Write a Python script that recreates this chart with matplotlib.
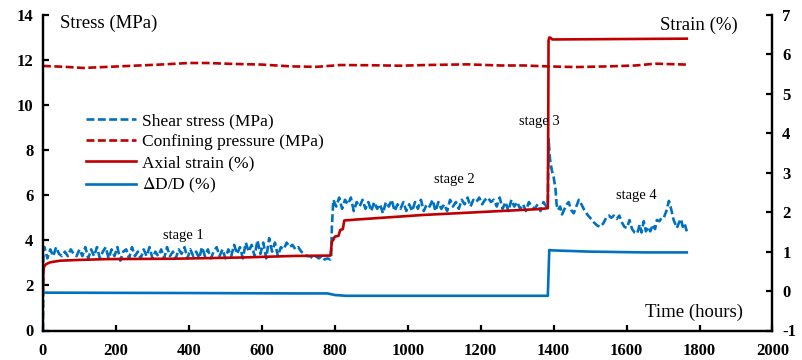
import numpy as np
import matplotlib
matplotlib.use("Agg")
import matplotlib.pyplot as plt

plt.rcParams['font.family'] = ['Liberation Serif', 'DejaVu Serif']
plt.rcParams['mathtext.fontset'] = 'stix'
plt.rcParams['axes.unicode_minus'] = False

BLUE = '#0070C0'
RED = '#C00000'

# ---------------- data ----------------
# Shear stress (MPa), left axis
shear_t_start = [0, 1]
shear_v_start = [0.0, 3.6]

shear_t_s1 = np.arange(4, 789, 8)
shear_v_s1 = [3.7, 3.2, 3.6, 3.3, 3.7,
              3.4, 3.3, 3.5, 3.3, 3.6, 3.4, 3.3, 3.6, 3.3,
              3.7, 3.2, 3.6, 3.3, 3.7, 3.2, 3.5, 3.7, 3.2, 3.6, 3.3, 3.7, 3.1, 3.5, 3.6, 3.2, 3.7, 3.3, 3.5, 3.2, 3.6, 3.3, 3.7,
              3.2, 3.5, 3.3, 3.6, 3.2, 3.7, 3.3, 3.5, 3.2, 3.6, 3.4, 3.7, 3.2, 3.6, 3.3, 3.5, 3.2, 3.7, 3.3, 3.6, 3.2, 3.5, 3.7, 3.3, 3.6, 3.2,
              3.6, 3.3, 3.8, 3.4, 3.7, 3.2, 3.9, 3.5, 3.8, 3.3, 4.0, 3.4, 3.9, 3.2, 4.1, 3.5,
              3.9, 3.3, 3.7, 3.6, 3.9, 3.7, 3.8, 3.6, 3.7, 3.5, 3.4, 3.3, 3.3, 3.2, 3.3, 3.2, 3.3, 3.15, 3.2, 3.15]

shear_t_s2 = np.arange(796, 1381, 8)
shear_v_s2 = [5.8, 5.5, 5.9, 5.4, 5.8, 5.6, 5.9, 5.3, 5.7, 5.5, 5.8, 5.4, 5.7,
              5.3, 5.7, 5.4, 5.6, 5.2, 5.7, 5.5, 5.8, 5.3, 5.6, 5.4, 5.7, 5.3,
              5.6, 5.3, 5.7, 5.4, 5.8, 5.3, 5.6, 5.5, 5.8, 5.3, 5.7, 5.4, 5.6,
              5.3, 5.8, 5.5, 5.7, 5.4, 5.8, 5.6, 5.9, 5.5, 5.8, 5.7, 5.9, 5.6,
              5.8, 5.9, 5.7, 5.8, 5.5, 5.9, 5.4, 5.7, 5.3, 5.8, 5.5, 5.7, 5.4,
              5.6, 5.3, 5.7, 5.5, 5.4, 5.6, 5.3, 5.7, 5.5]

shear_t_s34 = [1384, 1386, 1390, 1395, 1400, 1405, 1408, 1412, 1418, 1423, 1430, 1436, 1441, 1448,
               1455, 1462, 1469, 1476, 1484, 1492, 1500, 1510, 1520, 1528, 1536, 1544, 1551, 1558,
               1565, 1573, 1580, 1587, 1594, 1601, 1608, 1615, 1622, 1629, 1636, 1641, 1647, 1653,
               1659, 1665, 1672, 1678, 1683, 1690, 1696, 1702, 1709, 1716, 1722, 1729, 1734, 1738,
               1744, 1749, 1754, 1759, 1765]
shear_v_s34 = [5.6, 8.5, 7.6, 7.1, 6.8, 6.3, 5.6, 5.35, 5.5, 5.15, 5.4, 5.6, 5.7, 5.35,
               5.2, 5.5, 5.8, 5.6, 5.35, 5.15, 5.0, 4.8, 4.65, 4.6, 4.75, 5.0, 5.1, 5.0,
               5.1, 4.95, 5.1, 4.8, 4.6, 4.55, 4.9, 4.5, 4.35, 4.3, 4.7, 4.35, 4.85, 4.4,
               4.6, 4.4, 4.7, 4.5, 4.9, 4.85, 5.0, 5.0, 5.3, 5.75, 5.4, 4.9, 4.7, 4.55,
               4.8, 4.95, 4.6, 4.75, 4.4]

# Confining pressure (MPa), left axis
conf_t = [0, 60, 110, 180, 250, 320, 400, 450, 520, 600, 680, 750, 815, 900, 980,
          1050, 1162, 1254, 1320, 1382, 1459, 1550, 1624, 1679, 1720, 1765]
conf_v = [11.74, 11.7, 11.65, 11.7, 11.75, 11.8, 11.87, 11.87, 11.83, 11.8, 11.72, 11.7, 11.78, 11.77, 11.75,
          11.78, 11.81, 11.76, 11.76, 11.72, 11.69, 11.72, 11.76, 11.84, 11.82, 11.8]

# Axial strain (%), right axis
axial_t = [0, 1, 3, 8, 20, 47, 100, 175, 358, 540, 686, 788, 792, 796, 800, 810, 815, 822, 826,
           869, 1043, 1363, 1384, 1385, 1386, 1388, 1392, 1396, 1765]
axial_v = [0.05, 0.5, 0.62, 0.68, 0.73, 0.77, 0.79, 0.81, 0.82, 0.85, 0.89, 0.9, 1.25, 1.3, 1.38, 1.4, 1.55, 1.57, 1.79,
           1.82, 1.93, 2.08, 2.1, 3.8, 6.35, 6.43, 6.42, 6.38, 6.4]

# dD/D (%), right axis
dd_t = [0, 400, 700, 780, 800, 830, 1000, 1384, 1388, 1400, 1500, 1650, 1765]
dd_v = [-0.04, -0.05, -0.06, -0.06, -0.1, -0.12, -0.12, -0.12, 1.04, 1.03, 1.0, 0.98, 0.98]

x_ticks = [0, 200, 400, 600, 800, 1000, 1200, 1400, 1600, 1800, 2000]
left_ticks = [0, 2, 4, 6, 8, 10, 12, 14]
right_ticks = [-1, 0, 1, 2, 3, 4, 5, 6, 7]

stage_labels = ['stage 1', 'stage 2', 'stage 3', 'stage 4']
legend_labels = ['Shear stress (MPa)', 'Confining pressure (MPa)', 'Axial strain (%)', r'$\Delta$D/D (%)']

# ---------------- figure ----------------
W, H = 803, 360
fig = plt.figure(figsize=(W / 100, H / 100), dpi=100)
ax = fig.add_axes([43 / W, 1 - 330.5 / H, (772.5 - 43) / W, (330.5 - 15) / H])
ax2 = ax.twinx()

shear_t = np.concatenate([shear_t_start, shear_t_s1, [790, 792], shear_t_s2, shear_t_s34])
shear_v = np.concatenate([shear_v_start, shear_v_s1, [3.2, 4.6], shear_v_s2, shear_v_s34])

dash = (3.0, 1.3)
lw = 1.9
l1, = ax.plot(shear_t, shear_v, color=BLUE, lw=lw, ls=(0, dash), label=legend_labels[0])
l2, = ax.plot(conf_t, conf_v, color=RED, lw=lw, ls=(0, dash), label=legend_labels[1])
l3, = ax2.plot(axial_t, axial_v, color=RED, lw=lw, label=legend_labels[2])
l4, = ax2.plot(dd_t, dd_v, color=BLUE, lw=lw, label=legend_labels[3])

ax.set_xlim(0, 2000)
ax.set_ylim(0, 14)
ax2.set_ylim(-1, 7)
ax.set_xticks(x_ticks)
ax.set_yticks(left_ticks)
ax2.set_yticks(right_ticks)

for a in (ax, ax2):
    a.spines['top'].set_visible(False)
    for s in ('left', 'right', 'bottom'):
        a.spines[s].set_linewidth(1.6)
        a.spines[s].set_color('black')
    a.tick_params(direction='in', length=4, width=1.6, labelsize=12)
    for lab in a.get_xticklabels() + a.get_yticklabels():
        lab.set_fontweight('bold')
ax.tick_params(axis='x', pad=9)
ax.tick_params(axis='y', pad=7)
ax2.tick_params(axis='y', pad=7)

# axis titles inside plot
def px(x, y):
    return x / W, 1 - y / H

fig.text(*px(60, 23), 'Stress (MPa)', fontsize=13.5, ha='left', va='center')
fig.text(*px(738, 25), 'Strain (%)', fontsize=13.5, ha='right', va='center')
fig.text(*px(694, 312), 'Time (hours)', fontsize=13.5, ha='center', va='center')

stage_pos = [(183.5, 235), (454.5, 179), (539.5, 122), (636.5, 196)]
for lab, (xx, yy) in zip(stage_labels, stage_pos):
    fig.text(*px(xx, yy), lab, fontsize=10.5, ha='center', va='center')

leg = ax.legend(handles=[l1, l2, l3, l4], loc='upper left',
                bbox_to_anchor=((86 - 43) / (772.5 - 43), 1 - (113 - 15) / (330.5 - 15)),
                frameon=False, fontsize=12.5, handlelength=2.9, handletextpad=0.3,
                labelspacing=0.28, borderaxespad=0, borderpad=0)

fig.savefig('out.png', dpi=100)
